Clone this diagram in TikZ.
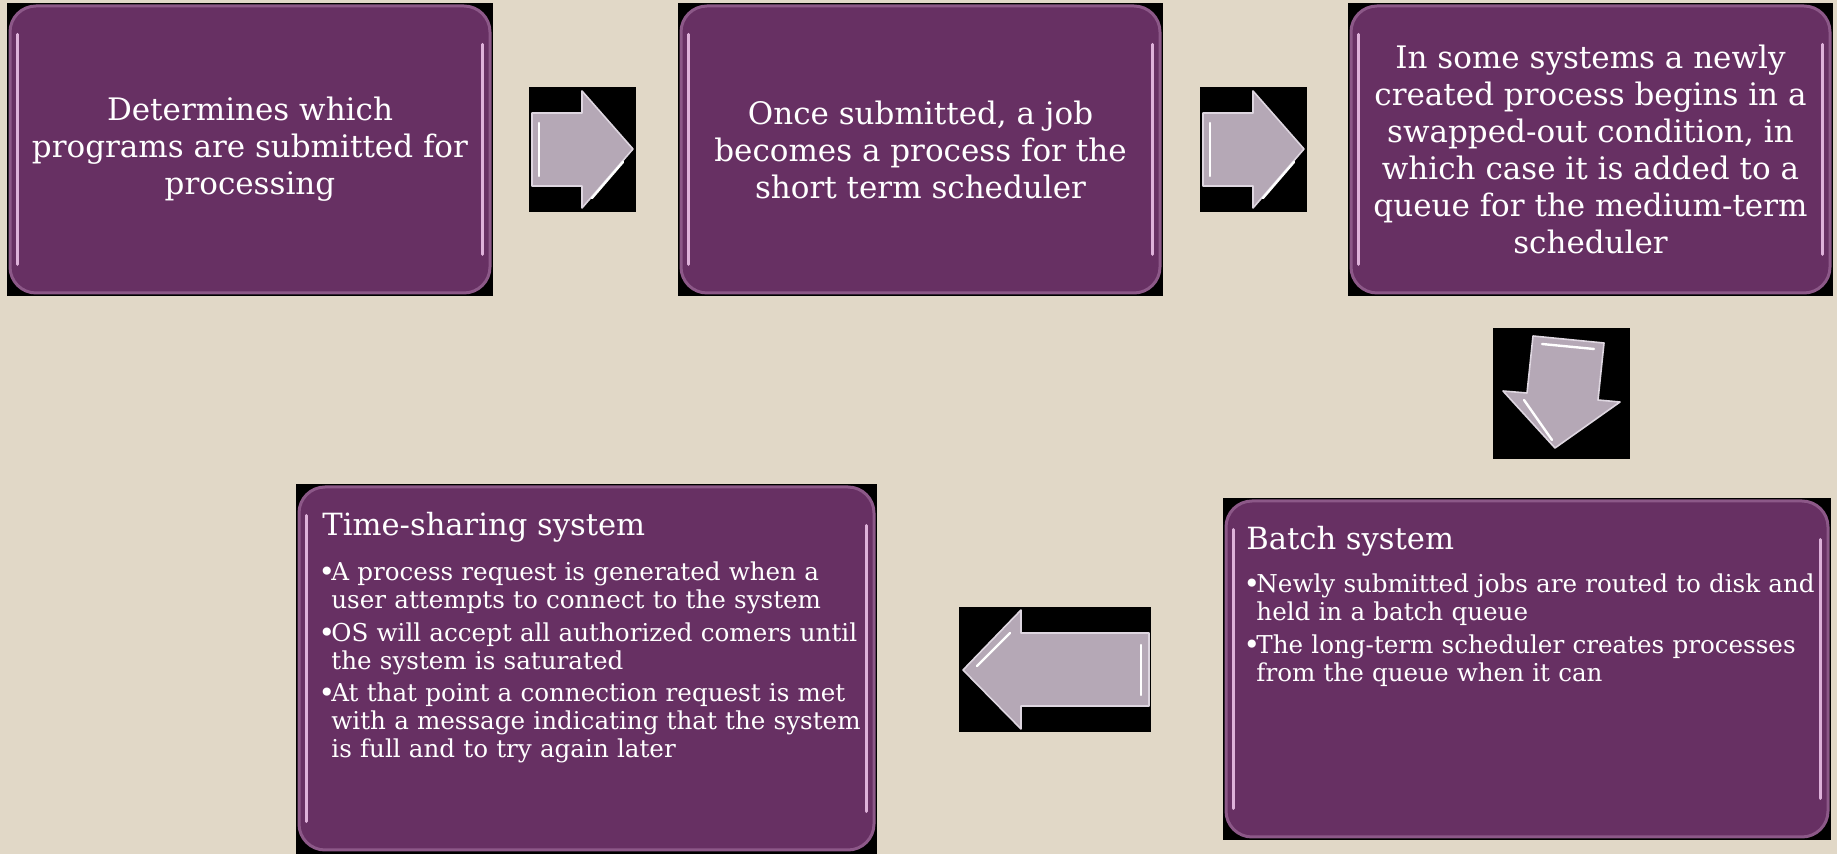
\documentclass[tikz,border=0pt]{standalone}
\usepackage{fontspec}
\setmainfont{DejaVu Serif}
\usetikzlibrary{calc}

\definecolor{slidebg}{RGB}{225,216,199}
\definecolor{panelfill}{RGB}{103,48,99}
\definecolor{panelrim}{RGB}{140,88,136}
\definecolor{panelshine}{RGB}{222,178,218}
\definecolor{arrowfill}{RGB}{181,168,182}
\definecolor{arrowedge}{RGB}{222,214,224}

\tikzset{
  panel/.style={fill=panelfill, draw=panelrim, line width=1.5pt, rounded corners=13pt, text=white, inner sep=0pt},
  shine/.style={panelshine, line width=1.5pt, line cap=round},
  backing/.style={fill=black},
  blockarrow/.style={fill=arrowfill, draw=arrowedge, line width=0.8pt, line join=round},
  glint/.style={white, line width=1.2pt, line cap=round},
  topfont/.style={font=\fontsize{15.5}{18.5}\selectfont, align=center},
  headfont/.style={font=\fontsize{15.3}{18}\selectfont, text=white, anchor=base west, inner sep=0pt},
  listfont/.style={font=\fontsize{12.3}{14}\selectfont, text=white, anchor=base west, inner sep=0pt, text width=300pt, align=left},
}
\newcommand{\bul}{\makebox[4.5pt][c]{\raisebox{-0.5pt}{\fontsize{14}{14}\selectfont\textbullet}}}
\newcommand{\hang}{\hspace*{4.5pt}}

\begin{document}
\begin{tikzpicture}[x=0.5pt,y=-0.5pt]
\useasboundingbox (0,0) rectangle (1837,854);
\fill[slidebg] (0,0) rectangle (1837,854);

% top row of panels
\fill[backing] (7,3) rectangle (493,296);
\node[panel, topfont, minimum width=240pt, minimum height=143.5pt] (submit) at (250,149.5)
  {Determines which\\programs are submitted for\\processing};
\fill[backing] (678,3) rectangle (1163,296);
\node[panel, topfont, minimum width=239.5pt, minimum height=143.5pt] (job) at (920.5,149.5)
  {Once submitted, a job\\becomes a process for the\\short term scheduler};
\fill[backing] (1348,3) rectangle (1833,296);
\node[panel, topfont, minimum width=239.5pt, minimum height=143.5pt] (swap) at (1590.5,149.5)
  {In some systems a newly\\created process begins in a\\swapped-out condition, in\\which case it is added to a\\queue for the medium-term\\scheduler};

% bottom row of panels
\fill[backing] (1223,498) rectangle (1831,840);
\node[panel, minimum width=301pt, minimum height=168pt] (batch) at (1527,669) {};
\fill[backing] (296,484) rectangle (877,860);
\node[panel, minimum width=287.5pt, minimum height=181.5pt] (share) at (586.5,668.5) {};

% glossy edges
\foreach \p in {submit,job,swap,batch,share} {
  \draw[shine] ($(\p.north west)+(9,30)$) -- ($(\p.south west)+(9,-30)$);
  \draw[shine] ($(\p.north east)+(-9,40)$) -- ($(\p.south east)+(-9,-40)$);
}

% panel texts
\node[headfont] (batchHead) at (1246,550) {Batch system};
\node[listfont] (batchList) at (1247,593)
  {\bul Newly submitted jobs are routed to disk and\\\hang held in a batch queue\\[2.25pt]%
   \bul The long-term scheduler creates processes\\\hang from the queue when it can};
\node[headfont] (shareHead) at (322,536) {Time-sharing system};
\node[listfont] (shareList) at (322,581)
  {\bul A process request is generated when a\\\hang user attempts to connect to the system\\[2.25pt]%
   \bul OS will accept all authorized comers until\\\hang the system is saturated\\[2.25pt]%
   \bul At that point a connection request is met\\\hang with a message indicating that the system\\\hang is full and to try again later};

% block arrows
\fill[backing] (529,87) rectangle (636,212);
\draw[blockarrow] (532,113) -- (582,113) -- (582,91) -- (633,149) -- (582,208) -- (582,186) -- (532,186) -- cycle;
\draw[glint] (539,123) -- (539,176);
\draw[glint] (592,198) -- (623,162);

\fill[backing] (1200,87) rectangle (1307,212);
\draw[blockarrow] (1203,113) -- (1253,113) -- (1253,91) -- (1304,149) -- (1253,208) -- (1253,186) -- (1203,186) -- cycle;
\draw[glint] (1210,123) -- (1210,176);
\draw[glint] (1263,198) -- (1294,162);

\fill[backing] (1493,328) rectangle (1630,459);
\draw[blockarrow] (1533,336) -- (1604,343) -- (1598,400) -- (1620,402) -- (1555,448) -- (1503,391) -- (1527,393) -- cycle;
\draw[glint] (1542,344) -- (1594,349);
\draw[glint] (1524,400) -- (1552,440);

\fill[backing] (959,607) rectangle (1151,732);
\draw[blockarrow] (963,670) -- (1021,610) -- (1021,633) -- (1149,633) -- (1149,706) -- (1021,706) -- (1021,729) -- cycle;
\draw[glint] (1141,645) -- (1141,695);
\draw[glint] (977,666) -- (1010,633);
\end{tikzpicture}
\end{document}
